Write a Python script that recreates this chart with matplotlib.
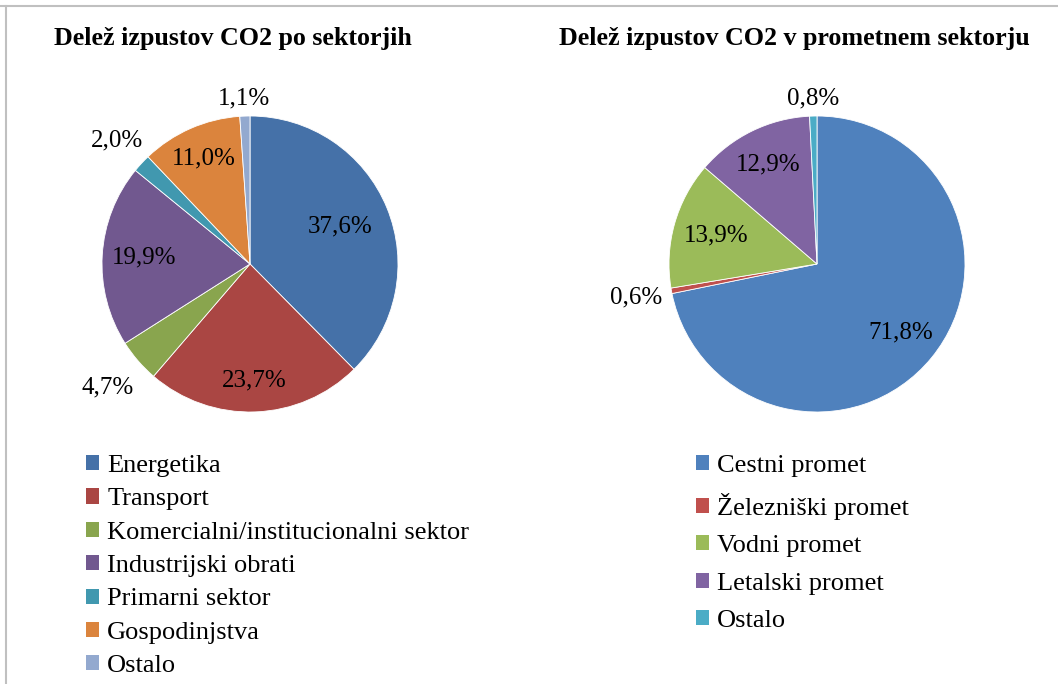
import numpy as np
import matplotlib.pyplot as plt
from matplotlib.lines import Line2D
from matplotlib.patches import Patch

plt.rcParams['font.family'] = ['Liberation Serif', 'DejaVu Serif']

# Left chart: CO2 emissions by sector
sectors = ['Energetika', 'Transport', 'Komercialni/institucionalni sektor',
           'Industrijski obrati', 'Primarni sektor', 'Gospodinjstva', 'Ostalo']
sectorShares = [37.6, 23.7, 4.7, 19.9, 2.0, 11.0, 1.1]
sectorColors = ['#4571A8', '#AA4643', '#89A54E', '#71588F', '#4198AF', '#DB843D', '#93A9CF']
sectorLabelDist = [0.66, 0.79, 1.27, 0.72, 1.23, 0.78, 1.12]

# Right chart: CO2 emissions within transport
transport = ['Cestni promet', 'Železniški promet', 'Vodni promet', 'Letalski promet', 'Ostalo']
transportShares = [71.8, 0.6, 13.9, 12.9, 0.8]
transportColors = ['#4F81BD', '#C0504D', '#9BBB59', '#8064A2', '#4BACC6']
transportLabelDist = [0.73, 1.24, 0.71, 0.75, 1.12]

W, H = 1058, 684
fig = plt.figure(figsize=(W / 100, H / 100), dpi=100)


def drawPie(cx, cy, r, shares, colors, dists):
    ax = fig.add_axes([(cx - r) / W, (H - cy - r) / H, 2 * r / W, 2 * r / H])
    wedges, _ = ax.pie(shares, colors=colors, startangle=90, counterclock=False,
                       radius=1, wedgeprops=dict(edgecolor='white', linewidth=0.6))
    for w, val, d in zip(wedges, shares, dists):
        theta = np.deg2rad((w.theta1 + w.theta2) / 2)
        ax.text(d * np.cos(theta), d * np.sin(theta), ('%.1f%%' % val).replace('.', ','),
                ha='center', va='center', fontsize=18)
    ax.set_xlim(-1, 1)
    ax.set_ylim(-1, 1)
    ax.axis('off')
    return wedges


drawPie(250, 264, 148, sectorShares, sectorColors, sectorLabelDist)
drawPie(817, 264, 148, transportShares, transportColors, transportLabelDist)

fig.text(233 / W, 1 - 38 / H, 'Delež izpustov CO2 po sektorjih', ha='center', va='center',
         fontsize=18.7, fontweight='bold')
fig.text(794 / W, 1 - 38 / H, 'Delež izpustov CO2 v prometnem sektorju', ha='center', va='center',
         fontsize=18.7, fontweight='bold')

leftHandles = [Patch(facecolor=c) for c in sectorColors]
fig.legend(leftHandles, sectors, loc='upper left', bbox_to_anchor=(86 / W, 1 - 455 / H),
           frameon=False, fontsize=19, handlelength=0.5, handleheight=0.5,
           handletextpad=0.3, labelspacing=0.43, borderpad=0, borderaxespad=0)

rightHandles = [Patch(facecolor=c) for c in transportColors]
fig.legend(rightHandles, transport, loc='upper left', bbox_to_anchor=(696 / W, 1 - 455 / H),
           frameon=False, fontsize=19, handlelength=0.5, handleheight=0.5,
           handletextpad=0.3, labelspacing=0.59, borderpad=0, borderaxespad=0)

# chart frame lines at top and left
fig.add_artist(Line2D([0, 1], [1 - 6 / H, 1 - 6 / H], color='#C0C0C0', linewidth=1.5))
fig.add_artist(Line2D([6 / W, 6 / W], [0, 1 - 6 / H], color='#C0C0C0', linewidth=1.5))

fig.savefig('out.png', dpi=100)
